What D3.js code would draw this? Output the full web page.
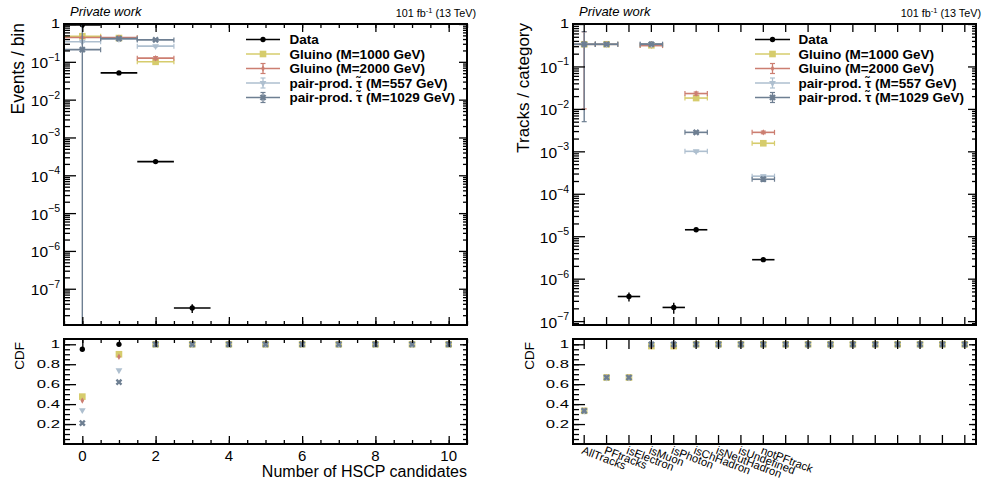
<!DOCTYPE html>
<html><head><meta charset="utf-8">
<script src="https://cdn.jsdelivr.net/npm/d3@7"></script>
<style>
body{margin:0;background:#fff;}
text{font-family:"Liberation Sans",Arial,Helvetica,sans-serif;fill:#000;}
</style></head><body>
<svg id="chart" width="990" height="485"></svg>
<script>
// ---------------- data ----------------
const hscpBins = [0,1,2,3,4,5,6,7,8,9,10];
const hscpData          = [0.95, 0.051, 2.3e-4, 3.1e-8, 0,0,0,0,0,0,0];
const hscpDataErr       = [0.003, 0.002, 1.5e-5, 0.8e-8, 0,0,0,0,0,0,0];
const hscpGluino1000    = [0.475, 0.425, 0.10, 0,0,0,0,0,0,0,0];
const hscpGluino1000Err = [0.01, 0.01, 0.006, 0,0,0,0,0,0,0,0];
const hscpGluino2000    = [0.44, 0.435, 0.125, 0,0,0,0,0,0,0,0];
const hscpGluino2000Err = [0.01, 0.01, 0.012, 0,0,0,0,0,0,0,0];
const hscpStau557       = [0.34, 0.40, 0.26, 0,0,0,0,0,0,0,0];
const hscpStau557Err    = [0.01, 0.01, 0.01, 0,0,0,0,0,0,0,0];
const hscpStau1029      = [0.21, 0.41, 0.38, 0,0,0,0,0,0,0,0];
const hscpStau1029Err   = [0.9, 0.012, 0.012, 0,0,0,0,0,0,0,0];
const hscpCdfData       = [0.95, 1, 1, 1, 1, 1, 1, 1, 1, 1, 1];
const hscpCdfGluino1000 = [0.475, 0.90, 1, 1, 1, 1, 1, 1, 1, 1, 1];
const hscpCdfGluino2000 = [0.435, 0.875, 1, 1, 1, 1, 1, 1, 1, 1, 1];
const hscpCdfStau557    = [0.34, 0.74, 1, 1, 1, 1, 1, 1, 1, 1, 1];
const hscpCdfStau1029   = [0.21, 0.62, 1, 1, 1, 1, 1, 1, 1, 1, 1];
const hscpMajorTicks = [0,2,4,6,8,10];
const hscpTickLabels = ["0","2","4","6","8","10"];

const trackCategories = ["AllTracks","PFtracks","isElectron","isMuon","isPhoton","isChHadron","isNeutHadron","isUndefined","notPFtrack","","","","","","","","",""];
const trkData          = [0.3333, 0.3333, 3.8e-7, 0.3333, 2.1e-7, 1.42e-5, 0, 0, 2.8e-6, 0,0,0,0,0,0,0,0,0];
const trkDataErr       = [0.001, 0.001, 0.9e-7, 0.001, 0.6e-7, 0.8e-6, 0, 0, 3e-7, 0,0,0,0,0,0,0,0,0];
const trkGluino1000    = [0.333, 0.333, 0, 0.315, 0, 0.018, 0, 0, 0.00155, 0,0,0,0,0,0,0,0,0];
const trkGluino1000Err = [0.005, 0.005, 0, 0.005, 0, 0.001, 0, 0, 0.0001, 0,0,0,0,0,0,0,0,0];
const trkGluino2000    = [0.333, 0.333, 0, 0.31, 0, 0.023, 0, 0, 0.0028, 0,0,0,0,0,0,0,0,0];
const trkGluino2000Err = [0.323, 0.005, 0, 0.005, 0, 0.002, 0, 0, 0.0002, 0,0,0,0,0,0,0,0,0];
const trkStau557       = [0.333, 0.333, 0, 0.333, 0, 0.001, 0, 0, 2.6e-4, 0,0,0,0,0,0,0,0,0];
const trkStau557Err    = [0.005, 0.005, 0, 0.005, 0, 0.00005, 0, 0, 1.5e-5, 0,0,0,0,0,0,0,0,0];
const trkStau1029      = [0.333, 0.333, 0, 0.333, 0, 0.0028, 0, 0, 2.2e-4, 0,0,0,0,0,0,0,0,0];
const trkStau1029Err   = [0.328, 0.005, 0, 0.005, 0, 0.0002, 0, 0, 2.5e-5, 0,0,0,0,0,0,0,0,0];
const trkCdfData       = [0.333, 0.667, 0.667, 1, 1, 1, 1, 1, 1, 1, 1, 1, 1, 1, 1, 1, 1, 1];
const trkCdfGluino1000 = [0.333, 0.667, 0.667, 0.982, 0.982, 1, 1, 1, 1, 1, 1, 1, 1, 1, 1, 1, 1, 1];
const trkCdfGluino2000 = [0.333, 0.667, 0.667, 0.977, 0.977, 1, 1, 1, 1, 1, 1, 1, 1, 1, 1, 1, 1, 1];
const trkCdfStau557    = [0.333, 0.667, 0.667, 1, 1, 1, 1, 1, 1, 1, 1, 1, 1, 1, 1, 1, 1, 1];
const trkCdfStau1029   = [0.333, 0.667, 0.667, 1, 1, 1, 1, 1, 1, 1, 1, 1, 1, 1, 1, 1, 1, 1];

const seriesNames  = ["Data","Gluino (M=1000 GeV)","Gluino (M=2000 GeV)","pair-prod. \u03C4\u0303 (M=557 GeV)","pair-prod. \u03C4\u0303 (M=1029 GeV)"];
const seriesColors = ["#000000","#d6cc6c","#cc7e71","#aebfcf","#6e7f92"];
const seriesMarkers = ["circle","square","small","tri","x"];
const ratioTicks = [0.2,0.4,0.6,0.8,1];
const ratioTickLabels = ["0.2","0.4","0.6","0.8","1"];

// ---------------- layout ----------------
const svg = d3.select("#chart");
svg.append("rect").attr("width",990).attr("height",485).attr("fill","#fff");
const P = [
  {x0:64, x1:467, top:24, bot:325, rTop:339, rBot:444},
  {x0:573, x1:976, top:24, bot:325, rTop:339, rBot:444}
];

function markerPath(type){
  switch(type){
    case "circle": return {d:d3.symbol(d3.symbolCircle,22)(), rot:0};
    case "square": return {d:d3.symbol(d3.symbolSquare,44)(), rot:0};
    case "small":  return {d:d3.symbol(d3.symbolDiamond,12)(), rot:0};
    case "tri":    return {d:d3.symbol(d3.symbolTriangle,20)(), rot:180};
    default:       return {d:d3.symbol(d3.symbolCross,28)(), rot:45};
  }
}
function drawMarker(g,type,cx,cy,color){
  const m = markerPath(type);
  g.append("path").attr("d",m.d).attr("transform",`translate(${cx},${cy}) rotate(${m.rot})`).attr("fill",color);
}
function ln(g,x1,y1,x2,y2,color,w){
  g.append("line").attr("x1",x1).attr("y1",y1).attr("x2",x2).attr("y2",y2).attr("stroke",color).attr("stroke-width",w||1.6);
}

let clipId=0;
function clipGroup(x0,y0,x1,y1){
  const id="clip"+(clipId++);
  svg.append("clipPath").attr("id",id).append("rect").attr("x",x0).attr("y",y0).attr("width",x1-x0).attr("height",y1-y0);
  return svg.append("g").attr("clip-path",`url(#${id})`);
}

function drawHist(p, xc, halfW, y, valsList, errsList){
  const g = clipGroup(p.x0,p.top,p.x1,p.bot);
  valsList.forEach((vals,si)=>{
    const col = seriesColors[si], isData = si===0, errs = errsList[si];
    vals.forEach((v,i)=>{
      if(!(v>0)) return;
      const cx = xc(i), cy = y(v), xa = cx-halfW, xb = cx+halfW;
      ln(g,xa,cy,xb,cy,col,1.6);
      if(!isData){ ln(g,xa,cy-2.5,xa,cy+2.5,col,1.2); ln(g,xb,cy-2.5,xb,cy+2.5,col,1.2); }
      const e = errs[i]||0;
      if(e>0){
        const yt = y(v+e), lowOk = v-e>0, yb = lowOk? y(v-e) : p.bot+10;
        ln(g,cx,yt,cx,yb,col,1.4);
        if(!isData){ ln(g,cx-2.5,yt,cx+2.5,yt,col,1.2); if(lowOk) ln(g,cx-2.5,yb,cx+2.5,yb,col,1.2); }
      }
      drawMarker(g,seriesMarkers[si],cx,cy,col);
    });
  });
}
function drawRatio(p, xc, r, cdfList){
  const g = clipGroup(p.x0,p.rTop-4,p.x1,p.rBot);
  cdfList.forEach((vals,si)=>{
    vals.forEach((v,i)=>{ drawMarker(g,seriesMarkers[si],xc(i),r(v),seriesColors[si]); });
  });
}
function axisTicks(axisFn, scale, vals, size, tx, ty){
  svg.append("g").attr("transform",`translate(${tx},${ty})`)
    .call(axisFn(scale).tickValues(vals).tickSize(size).tickFormat(""))
    .call(g=>{g.select(".domain").remove(); g.selectAll("line").attr("stroke","#000").attr("stroke-width",1.3);});
}
function frame(x0,y0,x1,y1){
  svg.append("rect").attr("x",x0).attr("y",y0).attr("width",x1-x0).attr("height",y1-y0)
    .attr("fill","none").attr("stroke","#000").attr("stroke-width",2);
}
function logTicks(y, p, decades){
  const [lo,hi] = y.domain();
  const minors=[];
  for(let d=-9; d<=0; d++) for(let k=2;k<=9;k++){ const v=k*Math.pow(10,d); if(v>=lo && v<=hi) minors.push(v); }
  axisTicks(d3.axisLeft, y, decades, -12, p.x0, 0);
  axisTicks(d3.axisLeft, y, minors, -6, p.x0, 0);
  axisTicks(d3.axisRight, y, decades, -8, p.x1, 0);
  axisTicks(d3.axisRight, y, minors, -4, p.x1, 0);
  decades.forEach(v=>{
    const e = Math.round(Math.log10(v)), yy = y(v);
    if(e===0){
      svg.append("g").attr("transform",`translate(${p.x0-4},${yy+4.3}) scale(1.35,1)`)
        .append("text").attr("text-anchor","end").attr("font-size",12).text("1");
    } else {
      const t = svg.append("text").attr("x",p.x0-4).attr("y",yy+6.5).attr("text-anchor","end").attr("font-size",15.5);
      t.append("tspan").text("10");
      t.append("tspan").attr("font-size",10.5).attr("dy",-7.5).text("\u2212"+(-e));
    }
  });
}
function ratioYAxis(r, p){
  const minors = d3.range(0.05,1.05,0.05).map(v=>+v.toFixed(2));
  axisTicks(d3.axisLeft, r, ratioTicks, -12, p.x0, 0);
  axisTicks(d3.axisLeft, r, minors, -6, p.x0, 0);
  axisTicks(d3.axisRight, r, ratioTicks, -7, p.x1, 0);
  axisTicks(d3.axisRight, r, minors, -4, p.x1, 0);
  ratioTicks.forEach((v,i)=>{
    svg.append("g").attr("transform",`translate(${p.x0-4},${r(v)+4}) scale(1.45,1)`)
      .append("text").attr("text-anchor","end").attr("font-size",11.5).text(ratioTickLabels[i]);
  });
}
function legend(xLine0,xLine1,xText){
  const rows=[39.5,54,68.5,83,97.5];
  seriesNames.forEach((n,i)=>{
    const yy=rows[i], col=seriesColors[i], cx=(xLine0+xLine1)/2;
    ln(svg,xLine0,yy,xLine1,yy,col,1.6);
    if(i>=2){ ln(svg,cx,yy-5,cx,yy+5,col,1.3); ln(svg,cx-2.5,yy-5,cx+2.5,yy-5,col,1.2); ln(svg,cx-2.5,yy+5,cx+2.5,yy+5,col,1.2); }
    drawMarker(svg,seriesMarkers[i],cx,yy,col);
    svg.append("text").attr("x",xText).attr("y",yy+4.8).attr("font-size",13.5).attr("font-weight","bold").text(n);
  });
}
function headers(p, lumiX){
  svg.append("text").attr("x",p.x0+6).attr("y",15.5).attr("font-size",13).attr("font-style","italic").text("Private work");
  const t = svg.append("text").attr("x",lumiX).attr("y",16.5).attr("text-anchor","end").attr("font-size",10.8);
  t.append("tspan").text("101 fb");
  t.append("tspan").attr("font-size",7.5).attr("dy",-4).text("-1");
  t.append("tspan").attr("dy",4).text(" (13 TeV)");
}

// ---------------- left: HSCP candidates ----------------
{
  const p = P[0];
  const x = d3.scaleLinear().domain([-0.5,10.5]).range([p.x0,p.x1]);
  const y = d3.scaleLog().domain([1.1e-8,1]).range([p.bot,p.top]);
  const r = d3.scaleLinear().domain([0,1.053]).range([p.rBot,p.rTop]);
  const halfW = (x(1)-x(0))/2;
  drawHist(p, i=>x(hscpBins[i]), halfW, y,
    [hscpData,hscpGluino1000,hscpGluino2000,hscpStau557,hscpStau1029],
    [hscpDataErr,hscpGluino1000Err,hscpGluino2000Err,hscpStau557Err,hscpStau1029Err]);
  drawRatio(p, i=>x(hscpBins[i]), r, [hscpCdfData,hscpCdfGluino1000,hscpCdfGluino2000,hscpCdfStau557,hscpCdfStau1029]);
  const minorX = d3.range(-0.5,10.51,0.5);
  [[p.top,p.bot],[p.rTop,p.rBot]].forEach(([t,b])=>{
    axisTicks(d3.axisBottom, x, hscpMajorTicks, -8, 0, b);
    axisTicks(d3.axisBottom, x, minorX, -4, 0, b);
    axisTicks(d3.axisTop, x, hscpMajorTicks, -8, 0, t);
    axisTicks(d3.axisTop, x, minorX, -4, 0, t);
  });
  logTicks(y, p, [1e-7,1e-6,1e-5,1e-4,1e-3,1e-2,1e-1,1]);
  ratioYAxis(r, p);
  frame(p.x0,p.top,p.x1,p.bot); frame(p.x0,p.rTop,p.x1,p.rBot);
  hscpMajorTicks.forEach((v,i)=>{
    svg.append("text").attr("x",x(v)).attr("y",461).attr("text-anchor","middle").attr("font-size",15).text(hscpTickLabels[i]);
  });
  svg.append("text").attr("x",p.x1).attr("y",477).attr("text-anchor","end").attr("font-size",16).text("Number of HSCP candidates");
  svg.append("text").attr("transform","translate(24,23) rotate(-90)").attr("text-anchor","end").attr("font-size",17.5).text("Events / bin");
  svg.append("text").attr("transform","translate(24,342) rotate(-90)").attr("text-anchor","end").attr("font-size",13.5).text("CDF");
  legend(246,280,289.5);
  headers(p, 476);
}

// ---------------- right: track categories ----------------
{
  const p = P[1];
  const x = d3.scaleBand().domain(d3.range(trackCategories.length)).range([p.x0,p.x1]);
  const xc = i=>x(i)+x.bandwidth()/2;
  const y = d3.scaleLog().domain([8.1e-8,1]).range([p.bot,p.top]);
  const r = d3.scaleLinear().domain([0,1.053]).range([p.rBot,p.rTop]);
  const halfW = x.bandwidth()/2;
  drawHist(p, xc, halfW, y,
    [trkData,trkGluino1000,trkGluino2000,trkStau557,trkStau1029],
    [trkDataErr,trkGluino1000Err,trkGluino2000Err,trkStau557Err,trkStau1029Err]);
  drawRatio(p, xc, r, [trkCdfData,trkCdfGluino1000,trkCdfGluino2000,trkCdfStau557,trkCdfStau1029]);
  const idx = d3.range(trackCategories.length);
  axisTicks(d3.axisBottom, x, idx, -8, 0, p.bot);
  axisTicks(d3.axisTop, x, idx, -8, 0, p.top);
  axisTicks(d3.axisBottom, x, idx, -9, 0, p.rBot);
  axisTicks(d3.axisTop, x, idx, -10, 0, p.rTop);
  logTicks(y, p, [1e-7,1e-6,1e-5,1e-4,1e-3,1e-2,1e-1,1]);
  ratioYAxis(r, p);
  frame(p.x0,p.top,p.x1,p.bot); frame(p.x0,p.rTop,p.x1,p.rBot);
  trackCategories.forEach((c,i)=>{
    if(!c) return;
    svg.append("text").attr("transform",`translate(${xc(i)},${p.rBot+1}) rotate(21)`)
      .attr("dy","0.78em").attr("font-size",11.3).text(c);
  });
  svg.append("text").attr("transform","translate(529,23) rotate(-90)").attr("text-anchor","end").attr("font-size",17).text("Tracks / category");
  svg.append("text").attr("transform","translate(534,342) rotate(-90)").attr("text-anchor","end").attr("font-size",13.5).text("CDF");
  legend(755,790,798.5);
  headers(p, 981);
}
</script>
</body></html>
